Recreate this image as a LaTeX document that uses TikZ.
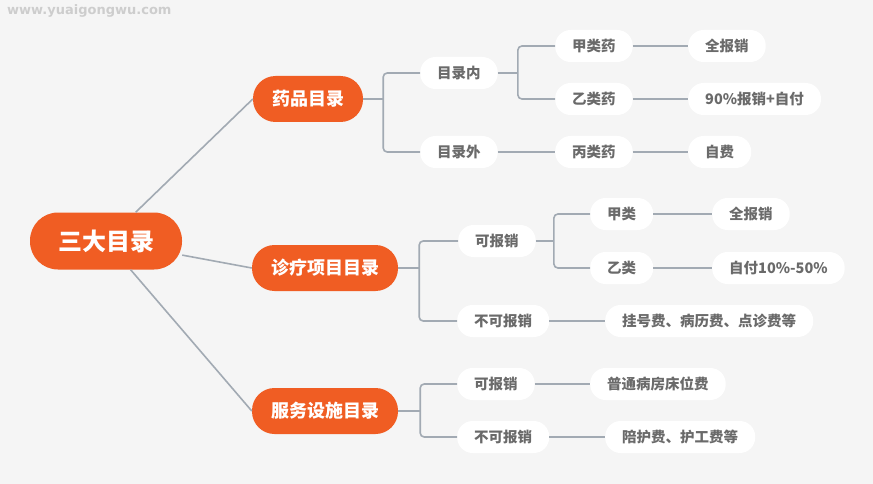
\documentclass[tikz,border=0pt]{standalone}
\usepackage{fontspec}
\setmainfont{Noto Sans CJK SC}
\newfontfamily\sitefont{DejaVu Sans}
\definecolor{bgc}{HTML}{F5F5F5}
\definecolor{org}{HTML}{F05D23}
\definecolor{lnc}{HTML}{A2AAB3}
\definecolor{txc}{HTML}{6A6A6A}
\definecolor{wmc}{HTML}{CDCDCD}

\begin{document}
\begin{tikzpicture}[
	x=1pt, y=-1pt,
	rt/.style = {rectangle, fill=org, text=white, font=\fontsize{24}{24}\selectfont\bfseries, rounded corners=28pt, minimum height=57, inner xsep=28, inner ysep=0},
	o/.style = {rectangle, fill=org, text=white, font=\fontsize{18}{18}\selectfont\bfseries, rounded corners=22.5pt, minimum height=46, inner xsep=19, inner ysep=0},
	t/.style = {rectangle, fill=white, text=txc, font=\fontsize{14.5}{14.5}\selectfont\bfseries, rounded corners=15.5pt, minimum height=32, inner xsep=17, inner ysep=0, anchor=west},
	r/.style = {draw=lnc, line width=1.6pt, rounded corners=4pt}
	]
	
	% ===== ===== ===== ===== =====
	\useasboundingbox[fill=bgc] (0, 0) rectangle (873, 484);
	\node[text=wmc, font=\sitefont\fontsize{13}{13}\selectfont\bfseries, anchor=west, inner sep=0]	(site)	at	(7, 11)	{www.yuaigongwu.com};
	
	% Nodes
	\node[rt]	(sd)	at	(106, 241)	{三大目录};
	\node[o]	(yp)	at	(308, 99)	{药品目录};
	\node[o]	(zl)	at	(325, 268)	{诊疗项目目录};
	\node[o]	(fw)	at	(325, 411)	{服务设施目录};
	
	% Lines
	\draw[r]	(sd)	--	(yp.west);
	\draw[r]	(sd)	--	(zl.west);
	\draw[r]	(sd)	--	(fw.west);
	
	% ===== ===== ===== ===== =====
	
	% Nodes
	\node[t]	(yp-in)		at	(420, 73)	{目录内};
	\node[t]	(yp-out)	at	(420, 152)	{目录外};
	
	\node[t]	(jl)	at	(555, 46)	{甲类药};
	\node[t]	(yl)	at	(555, 99)	{乙类药};
	\node[t]	(bl)	at	(555, 152)	{丙类药};
	
	\node[t]	(jl-b)	at	(688, 46)	{全报销};
	\node[t]	(yl-b)	at	(688, 99)	{90\%报销+自付};
	\node[t]	(bl-b)	at	(688, 152)	{自费};
	
	% Lines
	\draw[r]	(yp.east)	--	++(20, 0)	coordinate	(yp-j);
	\draw[r]	(yp-in.west)	-|	(yp-j)	|-	(yp-out.west);
	\draw[r]	(yp-in.east)	--	++(20, 0)	coordinate	(in-j);
	\draw[r]	(jl.west)	-|	(in-j)	|-	(yl.west);
	\draw[r]	(yp-out.east)	--	(bl.west);
	\draw[r]	(jl.east)	--	(jl-b.west);
	\draw[r]	(yl.east)	--	(yl-b.west);
	\draw[r]	(bl.east)	--	(bl-b.west);
	
	% ===== ===== ===== ===== =====
	
	% Nodes
	\node[t]	(zl-ok)	at	(458, 241)	{可报销};
	\node[t]	(zl-no)	at	(457, 321)	{不可报销};
	
	\node[t]	(zj)	at	(590, 214)	{甲类};
	\node[t]	(zy)	at	(590, 268)	{乙类};
	
	\node[t]	(zj-b)	at	(712, 214)	{全报销};
	\node[t]	(zy-b)	at	(712, 268)	{自付10\%-50\%};
	\node[t]	(zn-b)	at	(605, 321)	{挂号费、病历费、点诊费等};
	
	% Lines
	\draw[r]	(zl.east)	--	++(21, 0)	coordinate	(zl-j);
	\draw[r]	(zl-ok.west)	-|	(zl-j)	|-	(zl-no.west);
	\draw[r]	(zl-ok.east)	--	++(18, 0)	coordinate	(ok-j);
	\draw[r]	(zj.west)	-|	(ok-j)	|-	(zy.west);
	\draw[r]	(zj.east)	--	(zj-b.west);
	\draw[r]	(zy.east)	--	(zy-b.west);
	\draw[r]	(zl-no.east)	--	(zn-b.west);
	
	% ===== ===== ===== ===== =====
	
	% Nodes
	\node[t]	(fw-ok)	at	(457, 384)	{可报销};
	\node[t]	(fw-no)	at	(457, 437)	{不可报销};
	
	\node[t]	(fo-b)	at	(590, 384)	{普通病房床位费};
	\node[t]	(fn-b)	at	(605, 437)	{陪护费、护工费等};
	
	% Lines
	\draw[r]	(fw.east)	--	++(22, 0)	coordinate	(fw-j);
	\draw[r]	(fw-ok.west)	-|	(fw-j)	|-	(fw-no.west);
	\draw[r]	(fw-ok.east)	--	(fo-b.west);
	\draw[r]	(fw-no.east)	--	(fn-b.west);
	
\end{tikzpicture}
\end{document}
